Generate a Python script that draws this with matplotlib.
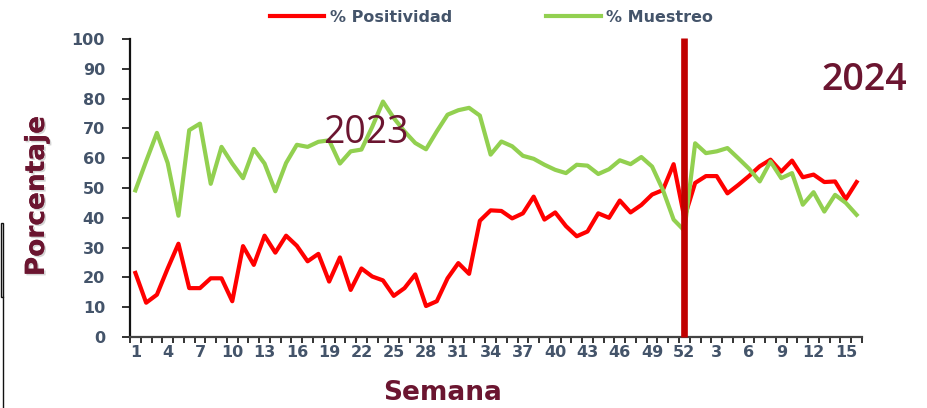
import numpy as np
import matplotlib
matplotlib.use("Agg")
import matplotlib.pyplot as plt
import matplotlib.patheffects as pe
from matplotlib.lines import Line2D
from matplotlib.patches import Rectangle

# ---- data ----
weeks_2023 = list(range(1, 53))
weeks_2024 = list(range(1, 17))
week_labels = [str(w) for w in weeks_2023] + [str(w) for w in weeks_2024]

positividad_2023 = [21.5, 11.5, 14.2, 23, 31.3, 16.4, 16.4, 19.7, 19.7, 12,
                    30.5, 24.2, 34, 28.3, 34, 30.6, 25.4, 27.9, 18.6, 26.7,
                    15.8, 23, 20.3, 19, 13.8, 16.4, 21, 10.4, 12, 19.7,
                    24.8, 21.2, 39, 42.5, 42.3, 39.8, 41.5, 47.1, 39.4, 41.8,
                    37.2, 33.8, 35.4, 41.5, 40, 45.8, 41.8, 44.3, 47.8, 49.3,
                    58, 40]
positividad_2024 = [51.7, 54, 54, 48.2, 51, 54, 57.3, 59.5, 55.5, 59.2,
                    53.6, 54.5, 52, 52.2, 46.3, 52]

muestreo_2023 = [49.2, 59, 68.5, 58.4, 40.7, 69.4, 71.6, 51.4, 63.8, 58.2,
                 53.3, 63.1, 58.2, 48.9, 58.4, 64.5, 63.8, 65.5, 66, 58.2,
                 62.3, 62.9, 70.5, 79, 73.5, 69, 65.1, 63, 69, 74.6,
                 76.1, 76.9, 74.3, 61.2, 65.6, 64, 60.8, 59.8, 57.8, 56.1,
                 55, 57.8, 57.5, 54.7, 56.3, 59.3, 58, 60.4, 57.2, 49.4,
                 39.4, 35.7]
muestreo_2024 = [65, 61.7, 62.3, 63.4, 60, 56.5, 52.2, 58.9, 53.3, 55,
                 44.4, 48.6, 42.1, 47.7, 45, 41]

positividad = positividad_2023 + positividad_2024
muestreo = muestreo_2023 + muestreo_2024
year_break_index = 51  # week 52 of 2023
label_every = 3

# ---- styling ----
TICK_COLOR = "#44546A"
TITLE_COLOR = "#6B1530"

fig = plt.figure(figsize=(9.27, 4.08), dpi=100)
ax = fig.add_axes([130/927, 1-337/408, 732/927, 298/408])

x = np.arange(len(week_labels))
ax.plot(x, positividad, color="#FF0000", lw=3.0, label="% Positividad",
        solid_joinstyle="round", zorder=3)
ax.plot(x, muestreo, color="#92D050", lw=3.0, label="% Muestreo",
        solid_joinstyle="round", zorder=4)
ax.vlines(year_break_index, 0, 100.5, color="#C00000", lw=4.8, zorder=5,
          clip_on=False)

ax.set_xlim(-0.5, len(week_labels) - 0.5)
ax.set_ylim(0, 100)

# ticks at category boundaries, labels at every third category
ax.set_xticks(np.arange(-0.5, len(week_labels), 1))
ax.set_xticklabels([])
lab_pos = x[::label_every]
ax.set_xticks(lab_pos, minor=True)
ax.set_xticklabels([week_labels[i] for i in lab_pos], minor=True)
ax.tick_params(axis="x", which="major", direction="out", length=4.5,
               width=1.3, color="#222222")
ax.tick_params(axis="x", which="minor", length=0, pad=6,
               labelsize=11.5, labelcolor=TICK_COLOR)
ax.set_yticks(np.arange(0, 101, 10))
ax.tick_params(axis="y", direction="out", length=6, width=1.3,
               color="#222222", pad=12, labelsize=11.5, labelcolor=TICK_COLOR)
for lab in ax.get_xticklabels(minor=True) + ax.get_yticklabels():
    lab.set_fontweight("bold")

for s in ["top", "right"]:
    ax.spines[s].set_visible(False)
ax.spines["left"].set_linewidth(1.6)
ax.spines["left"].set_color("#111111")
ax.spines["bottom"].set_linewidth(1.6)
ax.spines["bottom"].set_color("#444444")

shadow = [pe.withSimplePatchShadow(offset=(1.2, -1.2), shadow_rgbFace="#aaaaaa",
                                   alpha=0.5), pe.Normal()]
ax.set_ylabel("Porcentaje", fontsize=19, fontweight="bold", color=TITLE_COLOR,
              va="center", path_effects=shadow)
ax.yaxis.set_label_coords((37-130)/732, (337-196)/298)
ax.set_xlabel("Semana", fontsize=19, fontweight="bold", color=TITLE_COLOR,
              va="center")
ax.xaxis.set_label_coords((443-130)/732, (337-393)/298)

ax.text(21.4, 68.5, "2023", fontsize=27, color=TITLE_COLOR, ha="center",
        va="center", family="Open Sans", fontweight="medium", zorder=6)
ax.text(67.7, 86.2, "2024", fontsize=27, color=TITLE_COLOR, ha="center",
        va="center", family="Open Sans", fontweight="semibold", zorder=6,
        clip_on=False)

leg = fig.legend(loc="center left", bbox_to_anchor=(270/927, 1-17/408),
                 ncol=2, frameon=False, borderpad=0, borderaxespad=0,
                 handlelength=3.4, handletextpad=0.35, columnspacing=5.9,
                 prop={"size": 11.5, "weight": "bold"})
for t in leg.get_texts():
    t.set_color(TICK_COLOR)
for h in leg.legend_handles:
    h.set_linewidth(3.0)

# thin border artifact at left edge
fig.add_artist(Rectangle((0.5/927, 1-297/408), 2.7/927, 74/408, fill=False,
                         edgecolor="#111111", lw=1.0, transform=fig.transFigure))
fig.add_artist(Line2D([3.2/927, 3.2/927], [0, 1-297/408], color="#111111",
                      lw=1.0, transform=fig.transFigure))

fig.savefig("out.png", dpi=100)
